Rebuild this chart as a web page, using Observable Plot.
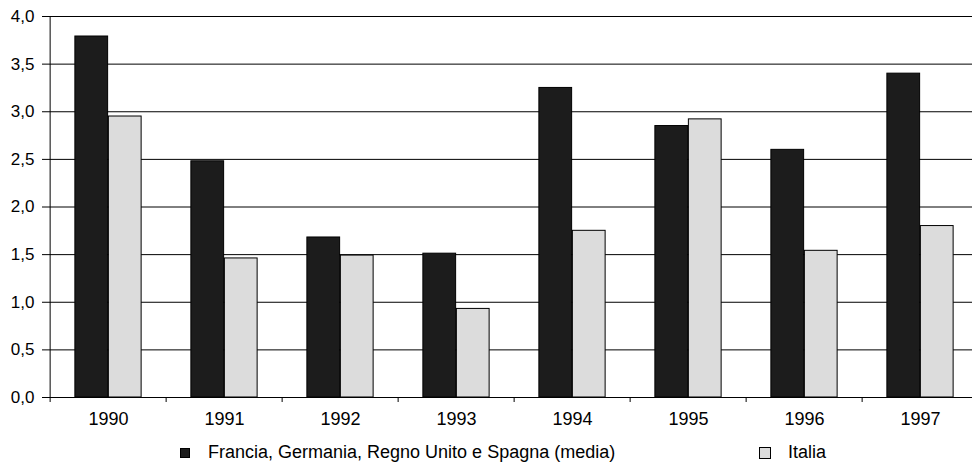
<!DOCTYPE html>
<html>
<head>
<meta charset="utf-8">
<script src="https://cdn.jsdelivr.net/npm/d3@7"></script>
<script src="https://cdn.jsdelivr.net/npm/@observablehq/plot@0.6"></script>
<style>
  body { margin: 0; background: #fff; }
  #wrap { position: relative; width: 972px; height: 464px; overflow: hidden; background: #fff; }
  #chart svg { display: block; }
  .leg { position: absolute; top: 443px; height: 18px; line-height: 18px; font-family: "Liberation Sans", Arial, sans-serif; font-size: 18px; color: #000; white-space: nowrap; }
  .sw { position: absolute; top: 5px; width: 10px; height: 10px; border: 1px solid #000; box-sizing: border-box; }
</style>
</head>
<body>
<div id="wrap">
  <div id="chart"></div>
  <div class="leg" id="leg0" style="left:180px;"><span class="sw" id="sw0" style="left:0;"></span><span id="t0" style="position:absolute;left:28px;"></span></div>
  <div class="leg" id="leg1" style="left:759px;"><span class="sw" id="sw1" style="left:0;width:12px;height:12px;top:4px;"></span><span id="t1" style="position:absolute;left:29px;"></span></div>
</div>
<script>
const years = ["1990", "1991", "1992", "1993", "1994", "1995", "1996", "1997"];
const seriesNames = ["Francia, Germania, Regno Unito e Spagna (media)", "Italia"];
const media = [3.79, 2.48, 1.68, 1.51, 3.25, 2.85, 2.60, 3.40];
const italia = [2.95, 1.46, 1.49, 0.93, 1.75, 2.92, 1.54, 1.80];
const yTicks = [0, 0.5, 1.0, 1.5, 2.0, 2.5, 3.0, 3.5, 4.0];
const colors = ["#1c1c1c", "#dcdcdc"];

const W = 981, H = 435, mL = 47, mR = 0, mT = 16, mB = 38;
const bw = (W - mL - mR) / years.length;
const barW = 33.5;
const outer = bw / 2 - barW;

const dMedia = years.map((y, i) => ({year: y, series: seriesNames[0], value: media[i]}));
const dItalia = years.map((y, i) => ({year: y, series: seriesNames[1], value: italia[i]}));
const fmt = d => d.toFixed(1).replace(".", ",");

const chart = Plot.plot({
  width: W, height: H,
  marginLeft: mL, marginRight: mR, marginTop: mT, marginBottom: mB,
  style: "font-family: 'Liberation Sans', Arial, sans-serif; max-width: none; background: #fff; color: #000;",
  x: {type: "band", domain: years, padding: 0, axis: null, label: null},
  y: {domain: [0, 4], axis: null, label: null},
  marks: [
    Plot.gridY(yTicks, {stroke: "#000", strokeOpacity: 1, strokeWidth: 1}),
    Plot.barY(dMedia, {x: "year", y: "value", fill: colors[0], stroke: "#000", strokeWidth: 1, insetLeft: outer, insetRight: bw / 2}),
    Plot.barY(dItalia, {x: "year", y: "value", fill: colors[1], stroke: "#000", strokeWidth: 1, insetLeft: bw / 2, insetRight: outer}),
    Plot.ruleX([years[0]], {dx: -bw / 2, stroke: "#000", strokeWidth: 1}),
    Plot.axisX({tickSize: 5, dx: -bw / 2, text: null, label: null, stroke: "#000"}),
    Plot.axisX({tickSize: 0, tickPadding: 15, fontSize: 18, label: null}),
    Plot.axisY(yTicks, {tickSize: 5, tickPadding: 8, tickFormat: fmt, fontSize: 17, label: null, stroke: "#000"})
  ]
});
document.getElementById("chart").appendChild(chart);

document.getElementById("t0").textContent = seriesNames[0];
document.getElementById("t1").textContent = seriesNames[1];
document.getElementById("sw0").style.background = colors[0];
document.getElementById("sw1").style.background = colors[1];
</script>
</body>
</html>
